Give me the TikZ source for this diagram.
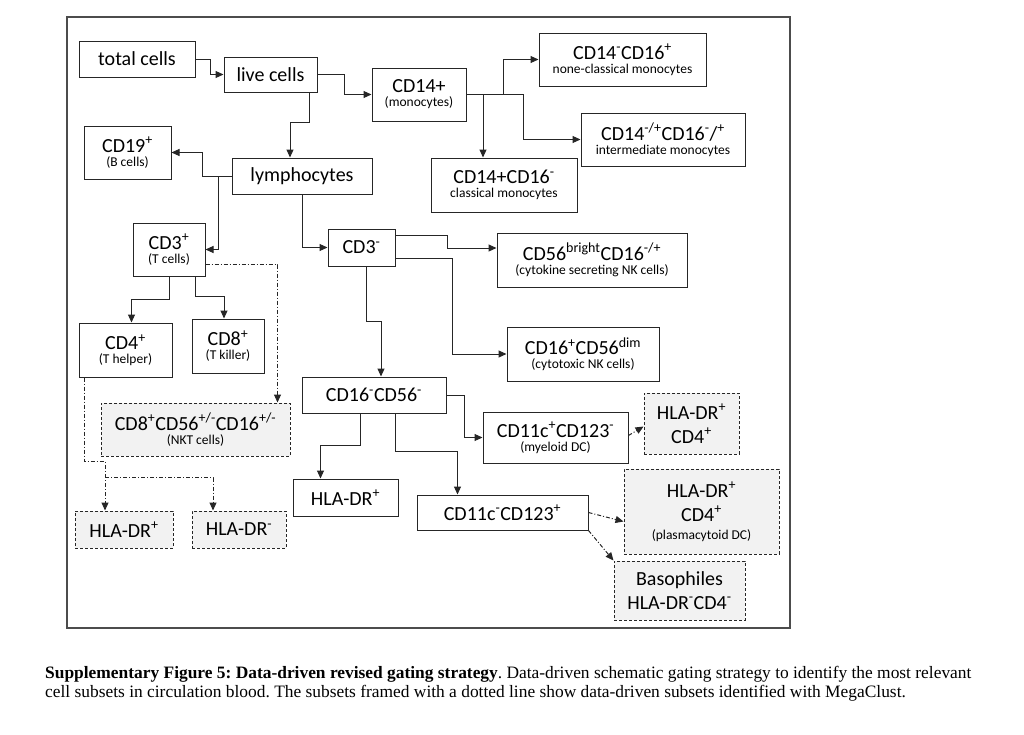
\documentclass[tikz,border=0pt]{standalone}
\usepackage{fontspec}
\setmainfont{Carlito}
\newfontfamily\captionfont{Liberation Serif}
\usetikzlibrary{arrows.meta}
\newcommand{\subtext}[1]{{\fontsize{13.5}{14}\selectfont #1}}
\tikzset{
  cellbox/.style={draw=black!85, line width=1pt, inner sep=0pt, align=center,
    font=\fontsize{20}{24}\selectfont},
  subsetbox/.style={cellbox, dash pattern=on 3pt off 2pt, fill=black!5},
  dims/.style 2 args={minimum width=#1pt, minimum height=#2pt},
  gate/.style={draw=black!85, line width=1pt, -{Triangle[length=8pt,width=7pt]}},
  datagate/.style={gate, dash pattern=on 4pt off 2pt on 1pt off 2pt},
}

\begin{document}
\begin{tikzpicture}[x=1pt, y=-1pt]
  \useasboundingbox (0,0) rectangle (1024,734);
  \draw [black!70, line width=1.3pt] (67,17) rectangle (790,628);

  \node [cellbox, dims={116}{36}] (total) at (137,59) {total cells};
  \node [cellbox, dims={93}{35}] (live) at (270.5,74.5) {live cells};
  \node [cellbox, dims={94}{53}] (mono) at (419,94.5) {CD14+\\[-10pt]\subtext{(monocytes)}};
  \node [cellbox, dims={87}{53}] (cd19) at (127.5,152.5) {CD19\textsuperscript{+}\\[-10pt]\subtext{(B cells)}};
  \node [cellbox, dims={140}{36}] (lymph) at (302,176) {lymphocytes};
  \node [cellbox, dims={167}{53}] (nonclass) at (622.5,59.5) {CD14\textsuperscript{-}CD16\textsuperscript{+}\\[-10pt]\subtext{none-classical monocytes}};
  \node [cellbox, dims={164}{53}] (interm) at (663,139.5) {CD14\textsuperscript{-/+}CD16\textsuperscript{-}/\textsuperscript{+}\\[-10pt]\subtext{intermediate monocytes}};
  \node [cellbox, dims={146}{54}] (classic) at (504,185) {CD14+CD16\textsuperscript{-}\\[-10pt]\subtext{classical monocytes}};

  \node [cellbox, dims={72}{53}] (cd3p) at (169,249.5) {CD3\textsuperscript{+}\\[-10pt]\subtext{(T cells)}};
  \node [cellbox, dims={67}{37}] (cd3n) at (361.5,247.5) {CD3\textsuperscript{-}};
  \node [cellbox, dims={190}{54}] (bright) at (592,260) {CD56\textsuperscript{bright}CD16\textsuperscript{-/+}\\[-10pt]\subtext{(cytokine secreting NK cells)}};
  \node [cellbox, dims={152}{54}] (dim) at (583,354) {CD16\textsuperscript{+}CD56\textsuperscript{dim}\\[-10pt]\subtext{(cytotoxic NK cells)}};
  \node [cellbox, dims={93}{54}] (cd4) at (125.5,350) {CD4\textsuperscript{+}\\[-10pt]\subtext{(T helper)}};
  \node [cellbox, dims={72}{54}] (cd8) at (228,346) {CD8\textsuperscript{+}\\[-10pt]\subtext{(T killer)}};
  \node [subsetbox, dims={189}{53}] (nkt) at (195.5,429.5) {CD8\textsuperscript{+}CD56\textsuperscript{+/-}CD16\textsuperscript{+/-}\\[-10pt]\subtext{(NKT cells)}};
  \node [subsetbox, dims={98}{37}] (hdp) at (124,529.5) {HLA-DR\textsuperscript{+}};
  \node [subsetbox, dims={94}{37}] (hdn) at (239,529.5) {HLA-DR\textsuperscript{-}};

  \node [cellbox, dims={144}{36}] (dn) at (374,395) {CD16\textsuperscript{-}CD56\textsuperscript{-}};
  \node [cellbox, dims={145}{51}] (mdc) at (555.5,437.5) {CD11c\textsuperscript{+}CD123\textsuperscript{-}\\[-10pt]\subtext{(myeloid DC)}};
  \node [subsetbox, dims={95}{61}] (mdccd4) at (691.5,423.5) {HLA-DR\textsuperscript{+}\\CD4\textsuperscript{+}};
  \node [cellbox, dims={105}{37}] (hlap) at (345.5,497.5) {HLA-DR\textsuperscript{+}};
  \node [cellbox, dims={171}{35}] (cdn) at (502.5,512.5) {CD11c\textsuperscript{-}CD123\textsuperscript{+}};
  \node [subsetbox, dims={155}{85}] (pdc) at (701.5,511.5) {HLA-DR\textsuperscript{+}\\CD4\textsuperscript{+}\\[-6pt]\subtext{(plasmacytoid DC)}};
  \node [subsetbox, dims={131}{59}] (baso) at (679.5,590.5) {Basophiles\\HLA-DR\textsuperscript{-}CD4\textsuperscript{-}};

  \draw [gate] (total.east) -- ++(15,0) |- (live.west);
  \draw [gate] (live.east) -- ++(27,0) |- (mono.west);
  \draw [gate] ([xshift=-8]live.south east) -- ++(0,30) -| ([xshift=-12]lymph.north);
  \draw [gate] (mono.east) -| ([xshift=-21]classic.north);
  \draw [gate] (mono.east) -- ++(37,0) |- (nonclass.west);
  \draw [gate] (mono.east) -- ++(57,0) |- (interm.west);
  \draw [gate] (lymph.west) -- ++(-29,0) |- (cd19.east);
  \draw [gate] (lymph.west) -- ++(-13,0) |- (cd3p.east);
  \draw [gate] (lymph.south) |- (cd3n.west);

  \draw [gate] ([yshift=-7]cd3n.north east) -- ++(52,0) |- ([yshift=12]bright.west);
  \draw [gate] ([yshift=8]cd3n.south east) -- ++(57,0) |- (dim.west);
  \draw [gate] ([xshift=5]cd3n.south) -- ++(0,55) -| ([xshift=7]dn.north);
  \draw [gate] (cd3p.south) -- ++(0,23) -| ([xshift=6]cd4.north);
  \draw [gate] ([xshift=26]cd3p.south) -- ++(0,20) -| ([xshift=-4]cd8.north);
  \draw [datagate] ([yshift=12]cd3p.south east) -| ([xshift=82]nkt.north);
  \draw [datagate] ([xshift=6]cd4.south west) -- ++(0,84) -| ([xshift=-19]hdp.north);
  \draw [datagate] ([xshift=-19,yshift=33]hdp.north) -| ([xshift=-26]hdn.north);

  \draw [gate] (dn.east) -- ++(18,0) |- (mdc.west);
  \draw [gate] ([xshift=-14]dn.south) -- ++(0,32) -| ([xshift=-25]hlap.north);
  \draw [gate] ([xshift=21]dn.south) -- ++(0,38) -| ([xshift=-45]cdn.north);
  \draw [datagate] ([yshift=2]mdc.east) -- ([yshift=-3]mdccd4.west);
  \draw [datagate] (cdn.east) -- ([yshift=-10]pdc.west);
  \draw [datagate] (cdn.south east) -- (baso.north west);

  \node [anchor=west, align=left, inner sep=0pt, font=\captionfont\fontsize{17.4}{19.5}\selectfont\frenchspacing] (caption) at (45,683.5)
    {\textbf{Supplementary Figure 5: Data-driven revised gating strategy}. Data-driven schematic gating strategy to identify the most relevant\\
     cell subsets in circulation blood. The subsets framed with a dotted line show data-driven subsets identified with MegaClust.};
\end{tikzpicture}
\end{document}
